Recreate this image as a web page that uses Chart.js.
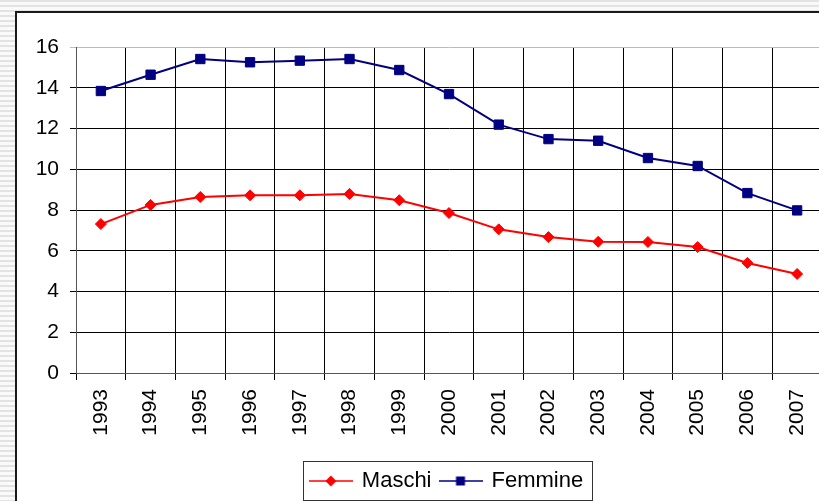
<!DOCTYPE html>
<html>
<head>
<meta charset="utf-8">
<script src="https://cdn.jsdelivr.net/npm/chart.js@4/dist/chart.umd.min.js"></script>
<style>
  html, body { margin: 0; padding: 0; width: 819px; height: 501px; overflow: hidden; }
  body { background: repeating-linear-gradient(to bottom, #e3e3e3 0 2px, #fafafa 2px 5px); position: relative; }
  #panel { position: absolute; left: 15px; top: 11px; width: 900px; height: 600px; background: #fff; border-left: 2px solid #1a1a1a; border-top: 2px solid #1a1a1a; }
  #chart { position: absolute; left: 0; top: 0; }
</style>
</head>
<body>
<div id="panel"></div>
<canvas id="chart" width="840" height="502" style="width:840px;height:502px;"></canvas>
<script>
const years = ["1993", "1994", "1995", "1996", "1997", "1998", "1999", "2000", "2001", "2002", "2003", "2004", "2005", "2006", "2007"];
const maschi = [7.31, 8.25, 8.64, 8.72, 8.72, 8.79, 8.48, 7.85, 7.05, 6.67, 6.44, 6.43, 6.18, 5.4, 4.86];
const femmine = [13.84, 14.64, 15.41, 15.25, 15.33, 15.41, 14.87, 13.69, 12.19, 11.48, 11.4, 10.55, 10.16, 8.83, 7.98];

const FONT = "'Liberation Sans', Arial, sans-serif";

// piccola icona legenda: linea + marcatore
function legendIcon(color, shape) {
  const c = document.createElement("canvas");
  c.width = 44;
  c.height = 14;
  const g = c.getContext("2d");
  g.strokeStyle = color;
  g.lineWidth = 1.5;
  g.beginPath();
  g.moveTo(0, 7);
  g.lineTo(44, 7);
  g.stroke();
  g.fillStyle = color;
  g.beginPath();
  if (shape === "diamond") {
    g.moveTo(22, 1.5);
    g.lineTo(27.5, 7);
    g.lineTo(22, 12.5);
    g.lineTo(16.5, 7);
  } else {
    g.rect(17.5, 2.5, 9, 9);
  }
  g.closePath();
  g.fill();
  return c;
}

const icons = [legendIcon("#ff0000", "diamond"), legendIcon("#000080", "square")];

// sposta la legenda per centrarla sotto l'area del grafico e le disegna il bordo
const legendBox = {
  id: "legendBox",
  afterLayout(chart) {
    const lg = chart.legend;
    lg.left = 72;
    lg.width = lg.right - lg.left;
  },
  afterDraw(chart) {
    const lg = chart.legend;
    if (!lg || !lg.legendHitBoxes.length) return;
    const hb = lg.legendHitBoxes;
    const left = Math.min(...hb.map((h) => h.left)) - 8;
    const right = Math.max(...hb.map((h) => h.left + h.width)) + 9;
    const top = hb[0].top - 9;
    const bottom = hb[0].top + hb[0].height + 8;
    const ctx = chart.ctx;
    ctx.save();
    ctx.strokeStyle = "#333";
    ctx.lineWidth = 1;
    ctx.strokeRect(Math.round(left) + 0.5, Math.round(top) + 0.5, Math.round(right - left), Math.round(bottom - top));
    ctx.restore();
  },
};

new Chart(document.getElementById("chart"), {
  type: "line",
  data: {
    labels: years,
    datasets: [
      {
        label: "Maschi",
        data: maschi,
        borderColor: "#ff0000",
        backgroundColor: "#ff0000",
        borderWidth: 2,
        pointStyle: "rectRot",
        pointRadius: 5.5,
        pointBorderWidth: 1,
        pointBackgroundColor: "#ff0000",
        pointBorderColor: "#ff0000",
        tension: 0,
      },
      {
        label: "Femmine",
        data: femmine,
        borderColor: "#000080",
        backgroundColor: "#000080",
        borderWidth: 2,
        pointStyle: "rect",
        pointRadius: 6.6,
        pointBorderWidth: 1,
        pointBackgroundColor: "#000080",
        pointBorderColor: "#000080",
        tension: 0,
      },
    ],
  },
  options: {
    responsive: false,
    animation: false,
    layout: { padding: { left: 0, top: 47, right: 18, bottom: 0 } },
    scales: {
      x: {
        offset: true,
        grid: { offset: true, color: "#000", lineWidth: 1, tickLength: 7 },
        border: { color: "#555" },
        ticks: {
          color: "#000",
          font: { family: FONT, size: 21 },
          minRotation: 90,
          maxRotation: 90,
          padding: 9,
          autoSkip: false,
        },
        afterFit: (scale) => {
          scale.height = 88;
        },
      },
      y: {
        min: 0,
        max: 16,
        grid: {
          color: (ctx) => (ctx.tick && ctx.tick.value === 16 ? "#bbb" : "#000"),
          lineWidth: 1,
          tickLength: 6,
        },
        border: { color: "#555" },
        ticks: {
          stepSize: 2,
          color: "#000",
          font: { family: FONT, size: 21 },
          padding: 11,
        },
        afterFit: (scale) => {
          scale.width = 76;
        },
      },
    },
    plugins: {
      tooltip: { enabled: false },
      legend: {
        position: "bottom",
        labels: {
          color: "#000",
          font: { family: FONT, size: 22 },
          padding: 9,
          usePointStyle: true,
          pointStyleWidth: 40,
          generateLabels: (chart) =>
            Chart.defaults.plugins.legend.labels.generateLabels(chart).map((item, i) => {
              item.pointStyle = icons[i];
              return item;
            }),
        },
      },
    },
  },
  plugins: [legendBox],
});
</script>
</body>
</html>
